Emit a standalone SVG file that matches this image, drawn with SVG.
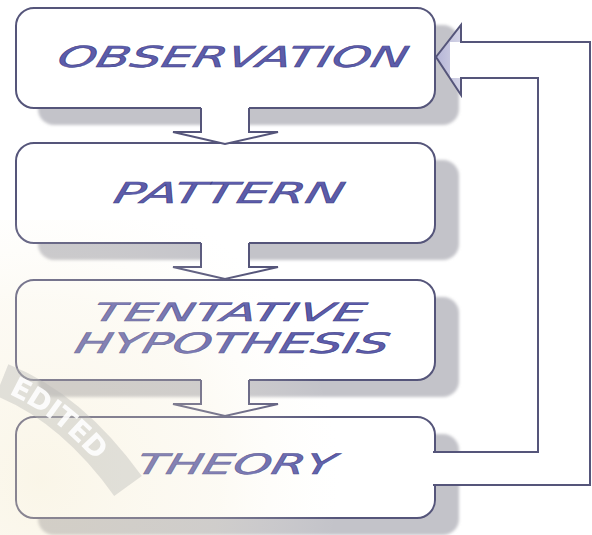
<svg xmlns="http://www.w3.org/2000/svg" width="592" height="535" viewBox="0 0 592 535">
  <style>
    .box { fill: #ffffff; stroke: #55557a; stroke-width: 2; }
    .shadow { fill: #c3c3c9; }
    .label { font-family: "DejaVu Sans", "Liberation Sans", sans-serif; font-style: oblique; fill: #5c5cab; stroke: #3f3f85; stroke-width: 0.5; }
    .arrowfill { fill: #ffffff; stroke: none; }
    .arrowline { fill: none; stroke: #55557a; stroke-width: 2; stroke-linejoin: miter; }
    .wm { font-family: "DejaVu Sans", sans-serif; font-weight: bold; fill: #ffffff; }
  </style>
  <defs>
    <filter id="soft" x="-10%" y="-10%" width="120%" height="130%">
      <feGaussianBlur stdDeviation="1.5"/>
    </filter>
    <radialGradient id="bgwarm" cx="40" cy="480" r="300" gradientUnits="userSpaceOnUse">
      <stop offset="0" stop-color="#f1e4bd" stop-opacity="1"/>
      <stop offset="0.6" stop-color="#f5ecd2" stop-opacity="0.7"/>
      <stop offset="1" stop-color="#fbf7ea" stop-opacity="0"/>
    </radialGradient>
    <linearGradient id="headGrad" x1="435" y1="0" x2="461" y2="0" gradientUnits="userSpaceOnUse">
      <stop offset="0" stop-color="#b4b4d6"/>
      <stop offset="1" stop-color="#d4d4e6"/>
    </linearGradient>
    <path id="wmArc" d="M 2 380 Q 72 408 128 486"/>
  </defs>

  <rect x="0" y="0" width="592" height="535" fill="#ffffff"/>

  <!-- Node: Observation -->
  <g id="observation">
    <rect class="shadow" x="38" y="25" width="421" height="100" rx="16" filter="url(#soft)"/>
    <rect class="box" x="16" y="8" width="419" height="100" rx="18"/>
    <text class="label" x="0" y="0" font-size="29" textLength="350" lengthAdjust="spacingAndGlyphs" transform="translate(56,67) skewX(-14)">OBSERVATION</text>
  </g>

  <!-- Node: Pattern -->
  <g id="pattern">
    <rect class="shadow" x="38" y="160" width="421" height="100" rx="16" filter="url(#soft)"/>
    <rect class="box" x="16" y="143" width="419" height="100" rx="18"/>
    <text class="label" x="0" y="0" font-size="29" textLength="230" lengthAdjust="spacingAndGlyphs" transform="translate(112,203) skewX(-14)">PATTERN</text>
  </g>

  <!-- Node: Tentative Hypothesis -->
  <g id="hypothesis">
    <rect class="shadow" x="38" y="297" width="421" height="100" rx="16" filter="url(#soft)"/>
    <rect class="box" x="16" y="280" width="419" height="100" rx="18"/>
    <text class="label" x="0" y="0" font-size="25" textLength="272" lengthAdjust="spacingAndGlyphs" transform="translate(92,321) skewX(-14)">TENTATIVE</text>
    <text class="label" x="0" y="0" font-size="28" textLength="314" lengthAdjust="spacingAndGlyphs" transform="translate(73,353) skewX(-14)">HYPOTHESIS</text>
  </g>

  <!-- Node: Theory -->
  <g id="theory">
    <rect class="shadow" x="38" y="434" width="421" height="101" rx="16" filter="url(#soft)"/>
    <rect class="box" x="16" y="417" width="419" height="101" rx="18"/>
    <text class="label" x="0" y="0" font-size="28" textLength="198" lengthAdjust="spacingAndGlyphs" transform="translate(135,474) skewX(-14)">THEORY</text>
  </g>

  <!-- Connectors -->
  <g id="connectors">
    <!-- Observation -> Pattern -->
    <polygon class="arrowfill" points="201,106 201,132 173,132 225,144 278,132 249,132 249,106"/>
    <polyline class="arrowline" points="201,108 201,132 173,132 225,144 278,132 249,132 249,108"/>
    <!-- Pattern -> Tentative Hypothesis -->
    <polygon class="arrowfill" points="201,241 201,267 173,267 225,279 278,267 249,267 249,241"/>
    <polyline class="arrowline" points="201,243 201,267 173,267 225,279 278,267 249,267 249,243"/>
    <!-- Tentative Hypothesis -> Theory -->
    <polygon class="arrowfill" points="201,378 201,404 173,404 225,416 278,404 249,404 249,378"/>
    <polyline class="arrowline" points="201,380 201,404 173,404 225,416 278,404 249,404 249,380"/>
    <!-- Theory -> Observation (feedback) -->
    <polygon class="arrowfill" points="432,452 538,452 538,78 461,78 461,95 436,57 461,25 461,42 590,42 590,485 432,485"/>
    <polygon fill="url(#headGrad)" points="436,57 461,25 461,95"/>
    <polygon fill="#ffffff" points="450,42 461,42 461,78 450,78"/>
    <polyline class="arrowline" points="433,452 538,452 538,78 461,78 461,95 436,57 461,25 461,42 590,42 590,485 433,485"/>
  </g>

  <!-- Faint watermark overlay -->
  <g id="watermark">
    <rect x="0" y="220" width="400" height="315" fill="url(#bgwarm)" opacity="0.35"/>
    <use href="#wmArc" fill="none" stroke="#b9b9b6" stroke-width="34" opacity="0.4"/>
    <text class="wm" font-size="28" opacity="0.9" dy="10"><textPath href="#wmArc" startOffset="12">EDITED</textPath></text>
  </g>
</svg>
